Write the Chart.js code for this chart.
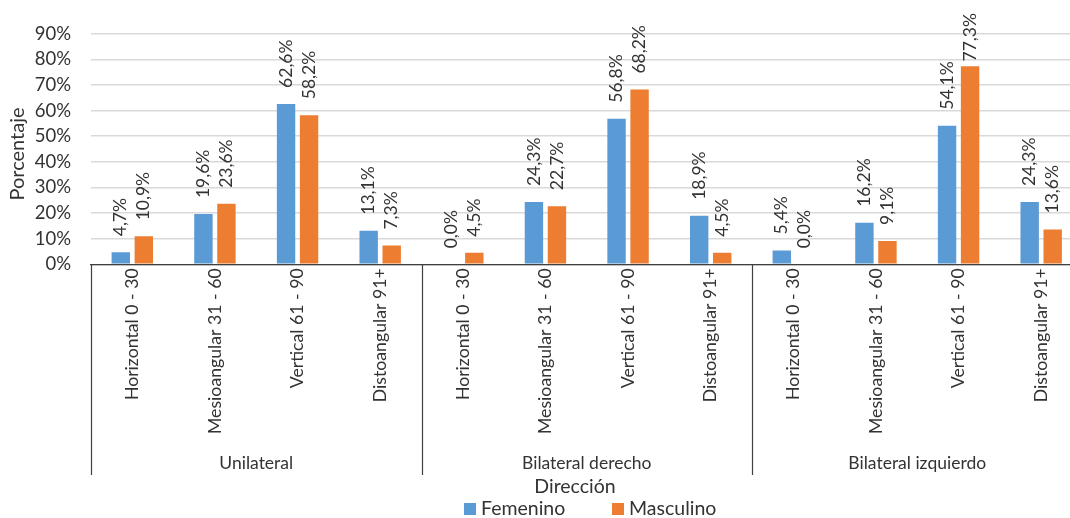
<!DOCTYPE html>
<html>
<head>
<meta charset="utf-8">
<script src="https://cdn.jsdelivr.net/npm/chart.js@4.4.1/dist/chart.umd.min.js"></script>
<style>
  html, body { margin: 0; padding: 0; background: #fff; overflow: hidden; }
  #wrap { width: 1084px; height: 518px; }
</style>
</head>
<body>
<div id="wrap"><canvas id="c" width="1084" height="518"></canvas></div>
<script>
// Angulation categories, repeated for each side group
const categories = [
  'Horizontal 0 - 30', 'Mesioangular 31 - 60', 'Vertical 61 - 90', 'Distoangular 91+',
  'Horizontal 0 - 30', 'Mesioangular 31 - 60', 'Vertical 61 - 90', 'Distoangular 91+',
  'Horizontal 0 - 30', 'Mesioangular 31 - 60', 'Vertical 61 - 90', 'Distoangular 91+'
];
const groups = ['Unilateral', 'Bilateral derecho', 'Bilateral izquierdo'];
const groupSize = 4;

const femenino  = [4.7, 19.6, 62.6, 13.1, 0.0, 24.3, 56.8, 18.9, 5.4, 16.2, 54.1, 24.3];
const masculino = [10.9, 23.6, 58.2, 7.3, 4.5, 22.7, 68.2, 4.5, 0.0, 9.1, 77.3, 13.6];

const yTicks = [0, 10, 20, 30, 40, 50, 60, 70, 80, 90];

const FONT = 'Lato, "Open Sans", sans-serif';
const TEXT = '#333333';

const fmt = v => v.toFixed(1).replace('.', ',') + '%';

// Value labels, group labels, separators, axis titles and legend
const extras = {
  id: 'extras',
  afterDatasetsDraw(chart) {
    const ctx = chart.ctx;
    ctx.save();
    ctx.fillStyle = TEXT;
    ctx.font = '17.5px ' + FONT;
    ctx.textAlign = 'left';
    ctx.textBaseline = 'middle';
    chart.data.datasets.forEach((ds, di) => {
      const meta = chart.getDatasetMeta(di);
      meta.data.forEach((bar, i) => {
        const txt = fmt(ds.data[i]);
        const w = ctx.measureText(txt).width;
        let start = bar.y - 16;
        if (start - w < 13) start = 13 + w;
        ctx.save();
        ctx.translate(bar.x, start);
        ctx.rotate(-Math.PI / 2);
        ctx.fillText(txt, 0, 0);
        ctx.restore();
      });
    });
    ctx.restore();
  },
  afterDraw(chart) {
    const ctx = chart.ctx;
    const area = chart.chartArea;
    const x = chart.scales.x;
    ctx.save();
    // group separators
    const bounds = [area.left];
    for (let g = 1; g < groups.length; g++) {
      const i = g * groupSize;
      bounds.push((x.getPixelForTick(i - 1) + x.getPixelForTick(i)) / 2);
    }
    bounds.push(area.right);
    ctx.strokeStyle = '#404040';
    ctx.lineWidth = 1.2;
    bounds.forEach(bx => {
      ctx.beginPath();
      ctx.moveTo(Math.round(bx) + 0.5, area.bottom);
      ctx.lineTo(Math.round(bx) + 0.5, 475);
      ctx.stroke();
    });
    // group labels
    ctx.fillStyle = TEXT;
    ctx.font = '17.5px ' + FONT;
    ctx.textAlign = 'center';
    ctx.textBaseline = 'middle';
    groups.forEach((g, k) => {
      ctx.fillText(g, (bounds[k] + bounds[k + 1]) / 2, 463);
    });
    // x axis title
    ctx.font = '19.5px ' + FONT;
    ctx.fillText('Dirección', 575, 487);
    // y axis title
    ctx.save();
    ctx.font = '20px ' + FONT;
    ctx.translate(18, 154);
    ctx.rotate(-Math.PI / 2);
    ctx.fillText('Porcentaje', 0, 0);
    ctx.restore();
    // legend
    const items = [
      { label: chart.data.datasets[0].label, color: chart.data.datasets[0].backgroundColor, x: 464 },
      { label: chart.data.datasets[1].label, color: chart.data.datasets[1].backgroundColor, x: 612 }
    ];
    ctx.font = '19.5px ' + FONT;
    ctx.textAlign = 'left';
    items.forEach(it => {
      ctx.fillStyle = it.color;
      ctx.fillRect(it.x, 503, 12, 12);
      ctx.fillStyle = TEXT;
      ctx.fillText(it.label, it.x + 17, 509);
    });
    ctx.restore();
  }
};

new Chart(document.getElementById('c'), {
  type: 'bar',
  data: {
    labels: categories,
    datasets: [
      { label: 'Femenino', data: femenino, backgroundColor: '#5B9BD5',
        categoryPercentage: 0.557, barPercentage: 0.8 },
      { label: 'Masculino', data: masculino, backgroundColor: '#ED7D31',
        categoryPercentage: 0.557, barPercentage: 0.8 }
    ]
  },
  options: {
    responsive: false,
    animation: false,
    layout: { padding: { top: 33.7, right: 1.5, bottom: 0, left: 0 } },
    plugins: { legend: { display: false }, tooltip: { enabled: false } },
    scales: {
      x: {
        grid: { display: false, drawTicks: false },
        border: { display: true, color: '#404040', width: 1.2 },
        ticks: {
          color: TEXT, font: { family: FONT, size: 17.7 },
          minRotation: 90, maxRotation: 90, padding: 4, autoSkip: false
        },
        afterFit(s) { s.height = 518 - 264.3; }
      },
      y: {
        min: 0, max: 90,
        afterBuildTicks(s) { s.ticks = yTicks.map(v => ({ value: v })); },
        grid: { color: '#d9d9d9', lineWidth: 1.5, drawTicks: false },
        border: { display: false },
        ticks: {
          color: TEXT, font: { family: FONT, size: 18.5 }, padding: 20,
          callback: v => v + '%'
        },
        afterFit(s) { s.width = 91; }
      }
    }
  },
  plugins: [extras]
});
</script>
</body>
</html>
